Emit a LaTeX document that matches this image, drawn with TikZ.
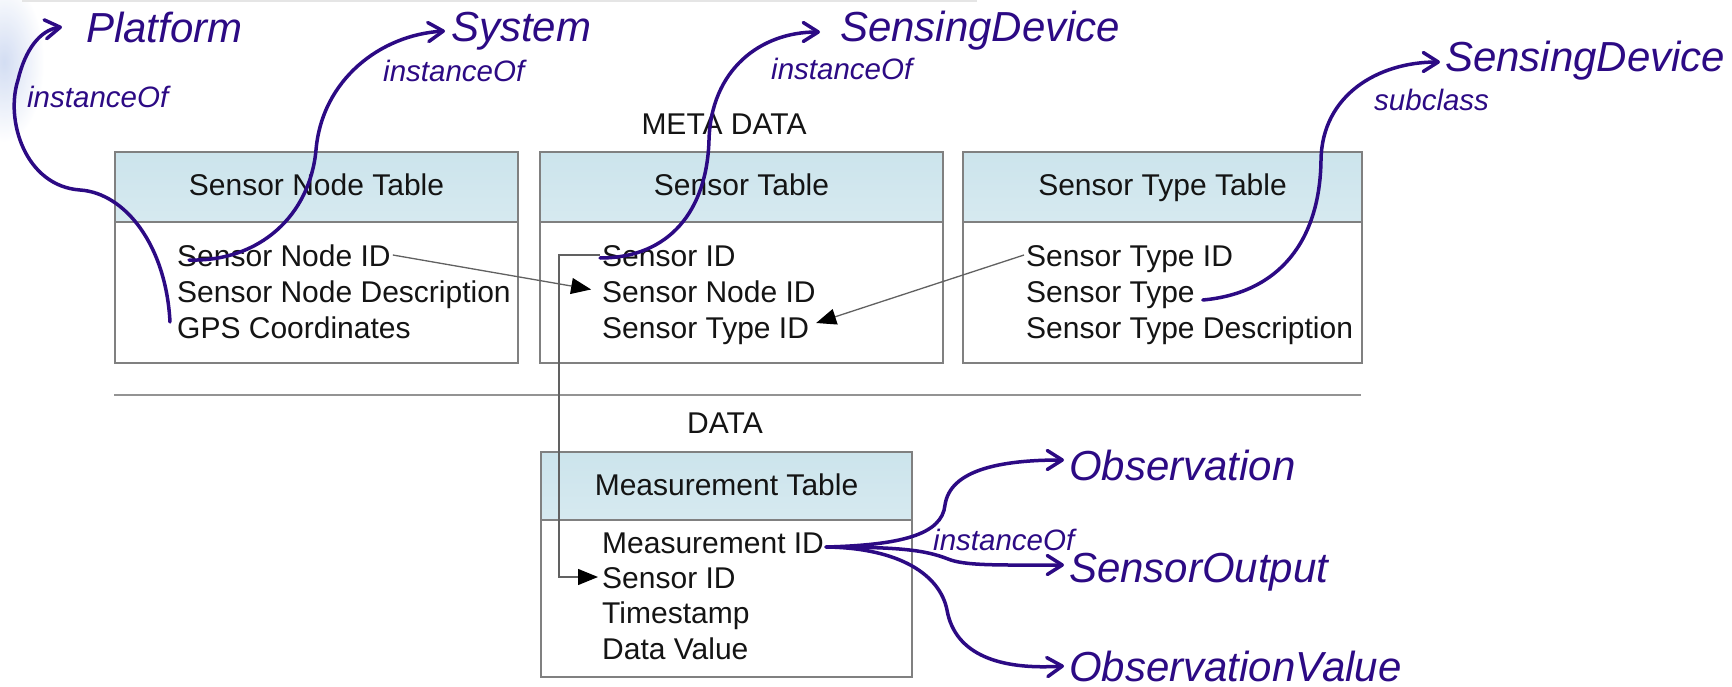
\documentclass[tikz,border=0pt]{standalone}
\usepackage{fontspec}
\setmainfont{Liberation Sans}
\usetikzlibrary{arrows.meta}

\definecolor{ink}{RGB}{44,10,132}
\definecolor{frame}{RGB}{128,128,128}
\definecolor{headtop}{RGB}{204,228,236}
\definecolor{headmid}{RGB}{230,243,247}
\definecolor{haze}{RGB}{200,213,240}
\definecolor{txt}{RGB}{20,20,20}

\begin{document}
\begin{tikzpicture}[x=1pt,y=-1pt,
  tablefont/.style={font=\fontsize{30}{34}\selectfont, text=txt},
  bodybox/.style={draw=frame, line width=2pt, fill=white, inner sep=0pt, anchor=north west},
  headbox/.style={draw=frame, line width=2pt, top color=headtop, middle color=headmid,
    bottom color=headtop!80!white, inner sep=0pt, anchor=north west,
    text height=22pt, text depth=4pt, tablefont},
  rowtext/.style={tablefont, anchor=base west, inner sep=2pt, text height=22pt, text depth=0pt},
  caption/.style={tablefont, anchor=base, inner sep=0pt},
  bigterm/.style={font=\fontsize{42}{46}\selectfont\itshape, text=ink, inner sep=0pt,
    anchor=base west, text height=30pt, text depth=0pt},
  relterm/.style={font=\fontsize{29.5}{32}\selectfont\itshape, text=ink, inner sep=0pt, anchor=base west},
  fk/.style={draw=black!62, line width=1.3pt, -{Triangle[length=20pt,width=16pt,color=black]}},
  link/.style={draw=ink, line width=3.5pt, line cap=round,
    -{Straight Barb[length=15pt,width=19pt,round]}}
]
% page and background
\fill[white] (0,0) rectangle (1732,687);
\useasboundingbox (0,0) rectangle (1732,687);
\shade[inner color=haze, outer color=white, opacity=0.8] (4,62) ellipse (40pt and 80pt);
\draw[black!10, line width=2pt] (22,1) -- (977,1);

% section captions and divider
\node[caption] (meta) at (724,135) {META DATA};
\draw[frame!85, line width=2.2pt] (114,395) -- (1361,395);
\node[caption] (data) at (725,433) {DATA};

% Sensor Node Table
\node[bodybox, minimum width=403pt, minimum height=211pt] (sntbox) at (114,151) {};
\node[headbox, minimum width=403pt, minimum height=70pt] (snthead) at (114,151) {Sensor Node Table};
\node[rowtext] (snt1) at (175,266) {Sensor Node ID};
\node[rowtext] (snt2) at (175,302) {Sensor Node Description};
\node[rowtext] (snt3) at (175,338) {GPS Coordinates};

% Sensor Table
\node[bodybox, minimum width=403pt, minimum height=211pt] (stbox) at (539,151) {};
\node[headbox, minimum width=403pt, minimum height=70pt] (sthead) at (539,151) {Sensor Table};
\node[rowtext] (st1) at (600,266) {Sensor ID};
\node[rowtext] (st2) at (600,302) {Sensor Node ID};
\node[rowtext] (st3) at (600,338) {Sensor Type ID};

% Sensor Type Table
\node[bodybox, minimum width=399pt, minimum height=211pt] (sttbox) at (962,151) {};
\node[headbox, minimum width=399pt, minimum height=70pt] (stthead) at (962,151) {Sensor Type Table};
\node[rowtext] (stt1) at (1024,266) {Sensor Type ID};
\node[rowtext] (stt2) at (1024,302) {Sensor Type};
\node[rowtext] (stt3) at (1024,338) {Sensor Type Description};

% Measurement Table
\node[bodybox, minimum width=371pt, minimum height=225pt] (mbox) at (540,451) {};
\node[headbox, minimum width=371pt, minimum height=68pt] (mhead) at (540,451) {Measurement Table};
\node[rowtext] (m1) at (600,553) {Measurement ID};
\node[rowtext] (m2) at (600,588) {Sensor ID};
\node[rowtext] (m3) at (600,623) {Timestamp};
\node[rowtext] (m4) at (600,659) {Data Value};

% foreign keys
\draw[fk, shorten >=9pt] (snt1.east) -- (st2.west);
\draw[fk] (stt1.west) -- ([xshift=5pt,yshift=4pt]st3.east);
\draw[fk] (st1.west) -- ++(-41,0) |- ([xshift=-2pt]m2.west);

% ontology terms
\node[bigterm] (plat)  at (86,43)    {Platform};
\node[bigterm] (sys)   at (451,42)   {System};
\node[bigterm] (sdtop) at (840,42)   {SensingDevice};
\node[bigterm] (sdr)   at (1445,72)  {SensingDevice};
\node[bigterm] (obs)   at (1069,480) {Observation};
\node[bigterm] (sout)  at (1069,582) {SensorOutput};
\node[bigterm] (oval)  at (1069,681) {ObservationValue};

\node[relterm] (r1) at (27,108)   {instanceOf};
\node[relterm] (r2) at (383,82)   {instanceOf};
\node[relterm] (r3) at (771,80)   {instanceOf};
\node[relterm] (r4) at (1374,111) {subclass};
\node[relterm] (r5) at (933,550)  {instanceOf};

% mappings to the ontology
\draw[link] ([xshift=-5pt,yshift=5pt]snt3.west) .. controls (166,245) and (125,193) .. (80,190)
  .. controls (25,186) and (5,120) .. (18,80)
  .. controls (25,50) and (40,30) .. ([xshift=-24pt,yshift=1pt]plat.west);
\draw[link] ([xshift=14pt,yshift=-5pt]snt1.west) .. controls (260,262) and (310,215) .. (316,150)
  .. controls (322,80) and (380,35) .. ([xshift=-6pt,yshift=-4pt]sys.west);
\draw[link] ([yshift=-3pt]st1.west) .. controls (670,258) and (707,210) .. (709,140)
  .. controls (711,70) and (760,32) .. ([xshift=-20pt,yshift=-5pt]sdtop.west);
\draw[link] ([xshift=6pt,yshift=-9pt]stt2.east) .. controls (1280,293) and (1320,240) .. (1321,160)
  .. controls (1322,95) and (1378,62) .. ([xshift=-5pt,yshift=-5pt]sdr.west);
\draw[link] ([yshift=-5pt]m1.east) .. controls (900,545) and (942,535) .. (945,505)
  .. controls (950,470) and (1000,460) .. ([xshift=-5pt,yshift=5pt]obs.west);
\draw[link] ([yshift=-5pt]m1.east) .. controls (900,547) and (925,550) .. (948,559)
  .. controls (965,566) and (1000,565) .. ([xshift=-5pt,yshift=2pt]sout.west);
\draw[link] ([yshift=-5pt]m1.east) .. controls (900,548) and (940,575) .. (947,610)
  .. controls (955,655) and (1000,670) .. ([xshift=-5pt,yshift=0pt]oval.west);
\end{tikzpicture}
\end{document}
